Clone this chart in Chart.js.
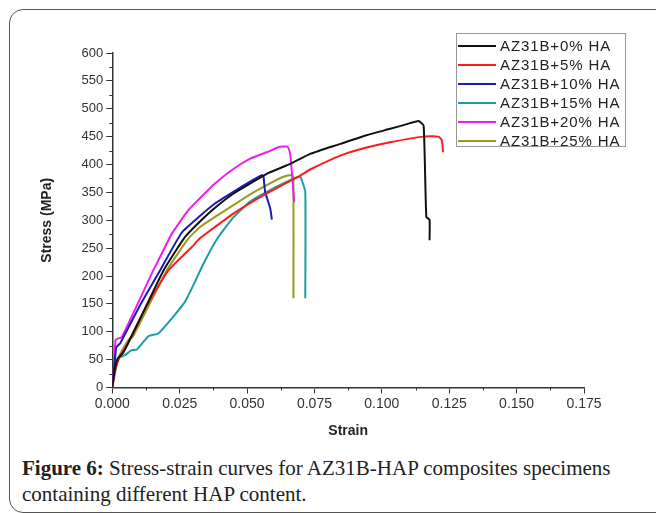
<!DOCTYPE html>
<html>
<head>
<meta charset="utf-8">
<script src="https://cdn.jsdelivr.net/npm/chart.js@4.4.1/dist/chart.umd.min.js"></script>
<style>
  body { margin: 0; background: #fff; }
  #wrap { position: relative; width: 656px; height: 513px; overflow: hidden; background: #fff; }
  #frame { position: absolute; left: 9px; top: 9px; width: 700px; height: 502px; border: 1.5px solid #555; border-radius: 14px; }
  #chart { position: absolute; left: 0; top: 0; }
  #legend { position: absolute; left: 456px; top: 33px; width: 168px; height: 112px; border: 1px solid #999; background: #fff;
            font-family: "Liberation Sans", Arial, sans-serif; font-size: 15px; color: #222; }
  .row { position: absolute; left: 0; height: 19px; line-height: 19px; white-space: nowrap; }
  .row span.ln { position: absolute; left: 1px; top: 9px; width: 38px; height: 2px; }
  .row span.tx { position: absolute; left: 43px; top: 0; letter-spacing: 0.9px; }
  #caption { position: absolute; left: 22px; top: 455px; font-family: "Liberation Serif", "DejaVu Serif", serif; font-size: 21px; line-height: 26px; color: #222; white-space: nowrap; }
</style>
</head>
<body>
<div id="wrap">
  <div id="frame"></div>
  <canvas id="chart" width="656" height="450"></canvas>
  <div id="legend"></div>
  <div id="caption"><b>Figure 6:</b> Stress-strain curves for AZ31B-HAP composites specimens<br>containing different HAP content.</div>
</div>
<script>
// Dados (deformação / tensão em MPa)
const labels = ['AZ31B+0% HA', 'AZ31B+5% HA', 'AZ31B+10% HA', 'AZ31B+15% HA', 'AZ31B+20% HA', 'AZ31B+25% HA'];
const colors = ['#111111', '#ff1a1a', '#1a1ab4', '#1d9e9e', '#f01cf0', '#9a9a22'];

const strain0 = [0, 0.001, 0.002, 0.004, 0.010, 0.019, 0.027, 0.033, 0.038, 0.045, 0.0512, 0.058, 0.066, 0.0734, 0.0846, 0.094, 0.1031, 0.109, 0.1136, 0.1155, 0.1165, 0.1177, 0.1177];
const stress0 = [0, 35, 52, 62, 120, 210, 270, 300, 322, 348, 366, 385, 401, 419, 437, 452, 464, 472, 478, 470, 306, 301, 264];

const strain5 = [0, 0.001, 0.003, 0.005, 0.012, 0.0208, 0.0295, 0.0326, 0.0381, 0.0449, 0.0573, 0.0697, 0.0734, 0.0846, 0.094, 0.1031, 0.1155, 0.121, 0.1223, 0.1227];
const stress5 = [0, 30, 58, 72, 140, 210, 252, 268, 288, 312, 348, 380, 391, 416, 430, 440, 450, 450, 443, 422];

const strain10 = [0, 0.0008, 0.0015, 0.003, 0.010, 0.0177, 0.0258, 0.0326, 0.0381, 0.0449, 0.0524, 0.0555, 0.0561, 0.0567, 0.0586, 0.0592];
const stress10 = [0, 40, 72, 80, 145, 210, 278, 308, 330, 351, 373, 381, 378, 351, 321, 301];

const strain15 = [0, 0.0022, 0.0047, 0.0072, 0.0091, 0.0134, 0.0171, 0.0221, 0.027, 0.0307, 0.0338, 0.0388, 0.0449, 0.051, 0.0573, 0.066, 0.0697, 0.0703, 0.0716, 0.0716];
const stress15 = [0, 52, 58, 67, 68, 92, 97, 124, 154, 190, 222, 266, 305, 333, 351, 372, 378, 372, 351, 160];

const strain20 = [0, 0.0005, 0.0012, 0.0022, 0.0035, 0.0152, 0.0171, 0.0221, 0.0282, 0.0326, 0.0381, 0.0449, 0.051, 0.0573, 0.0617, 0.065, 0.066, 0.0675];
const stress20 = [0, 30, 85, 88, 90, 210, 228, 276, 318, 340, 366, 392, 410, 422, 431, 432, 419, 333];

const strain25 = [0, 0.0005, 0.002, 0.004, 0.0065, 0.0075, 0.0202, 0.0282, 0.0326, 0.0381, 0.0449, 0.051, 0.0573, 0.0635, 0.0666, 0.0672, 0.0672];
const stress25 = [0, 20, 50, 70, 88, 90, 210, 267, 288, 306, 327, 346, 363, 378, 381, 378, 160];

const strains = [strain0, strain5, strain10, strain15, strain20, strain25];
const stresses = [stress0, stress5, stress10, stress15, stress20, stress25];

const xTicks = [0, 0.025, 0.05, 0.075, 0.1, 0.125, 0.15, 0.175];
const yTicks = [0, 50, 100, 150, 200, 250, 300, 350, 400, 450, 500, 550, 600];

// Legenda em HTML
const legend = document.getElementById('legend');
labels.forEach((lab, i) => {
    const row = document.createElement('div');
    row.className = 'row';
    row.style.top = (2 + i * 19) + 'px';
    row.innerHTML = '<span class="ln" style="background:' + colors[i] + '"></span><span class="tx">' + lab + '</span>';
    legend.appendChild(row);
});

// Ticks menores nos eixos
const minorTicks = {
    id: 'minorTicks',
    afterDraw(chart) {
        const { ctx, scales: { x, y } } = chart;
        ctx.save();
        ctx.strokeStyle = '#333';
        ctx.lineWidth = 1;
        ctx.beginPath();
        for (let i = 0; i < xTicks.length - 1; i++) {
            const px = Math.round(x.getPixelForValue((xTicks[i] + xTicks[i + 1]) / 2)) + 0.5;
            ctx.moveTo(px, x.top);
            ctx.lineTo(px, x.top + 3);
        }
        for (let i = 0; i < yTicks.length - 1; i++) {
            const py = Math.round(y.getPixelForValue((yTicks[i] + yTicks[i + 1]) / 2)) + 0.5;
            ctx.moveTo(y.right, py);
            ctx.lineTo(y.right - 3, py);
        }
        ctx.stroke();
        ctx.restore();
    }
};

const xFont = { family: '"Liberation Sans", Arial, sans-serif', size: 14 };
const yFont = { family: '"Liberation Sans", Arial, sans-serif', size: 13 };
const titleFont = { family: '"Liberation Sans", Arial, sans-serif', size: 14, weight: 'bold' };

new Chart(document.getElementById('chart').getContext('2d'), {
    type: 'scatter',
    data: {
        datasets: labels.map((lab, i) => ({
            label: lab,
            data: strains[i].map((s, j) => ({ x: s, y: stresses[i][j] })),
            showLine: true,
            borderColor: colors[i],
            borderWidth: 2,
            pointRadius: 0,
            tension: 0.15,
            fill: false
        }))
    },
    options: {
        responsive: false,
        animation: false,
        layout: { padding: { left: 37, right: 72, top: 53, bottom: 0 } },
        plugins: { legend: { display: false }, tooltip: { enabled: false } },
        scales: {
            x: {
                type: 'linear', min: 0, max: 0.175,
                afterBuildTicks: s => { s.ticks = xTicks.map(v => ({ value: v })); },
                afterFit: s => { s.height = 62.5; },
                ticks: { font: xFont, color: '#333', padding: 2, maxRotation: 0, autoSkip: false,
                         callback: v => Number(v).toFixed(3) },
                grid: { display: true, drawOnChartArea: false, drawTicks: true, tickLength: 6, color: '#333' },
                border: { display: true, color: '#333', width: 1.5 },
                title: { display: true, text: 'Strain', font: titleFont, color: '#222', padding: { top: 0, bottom: 10 } }
            },
            y: {
                type: 'linear', min: 0, max: 600,
                afterBuildTicks: s => { s.ticks = yTicks.map(v => ({ value: v })); },
                afterFit: s => { s.width = 75.3; },
                ticks: { font: yFont, color: '#333', padding: 3, autoSkip: false },
                grid: { display: true, drawOnChartArea: false, drawTicks: true, tickLength: 6, color: '#333' },
                border: { display: true, color: '#333', width: 1.5 },
                title: { display: true, text: 'Stress (MPa)', font: titleFont, color: '#222', padding: { top: 2, bottom: 0 } }
            }
        }
    },
    plugins: [minorTicks]
});
</script>
</body>
</html>
